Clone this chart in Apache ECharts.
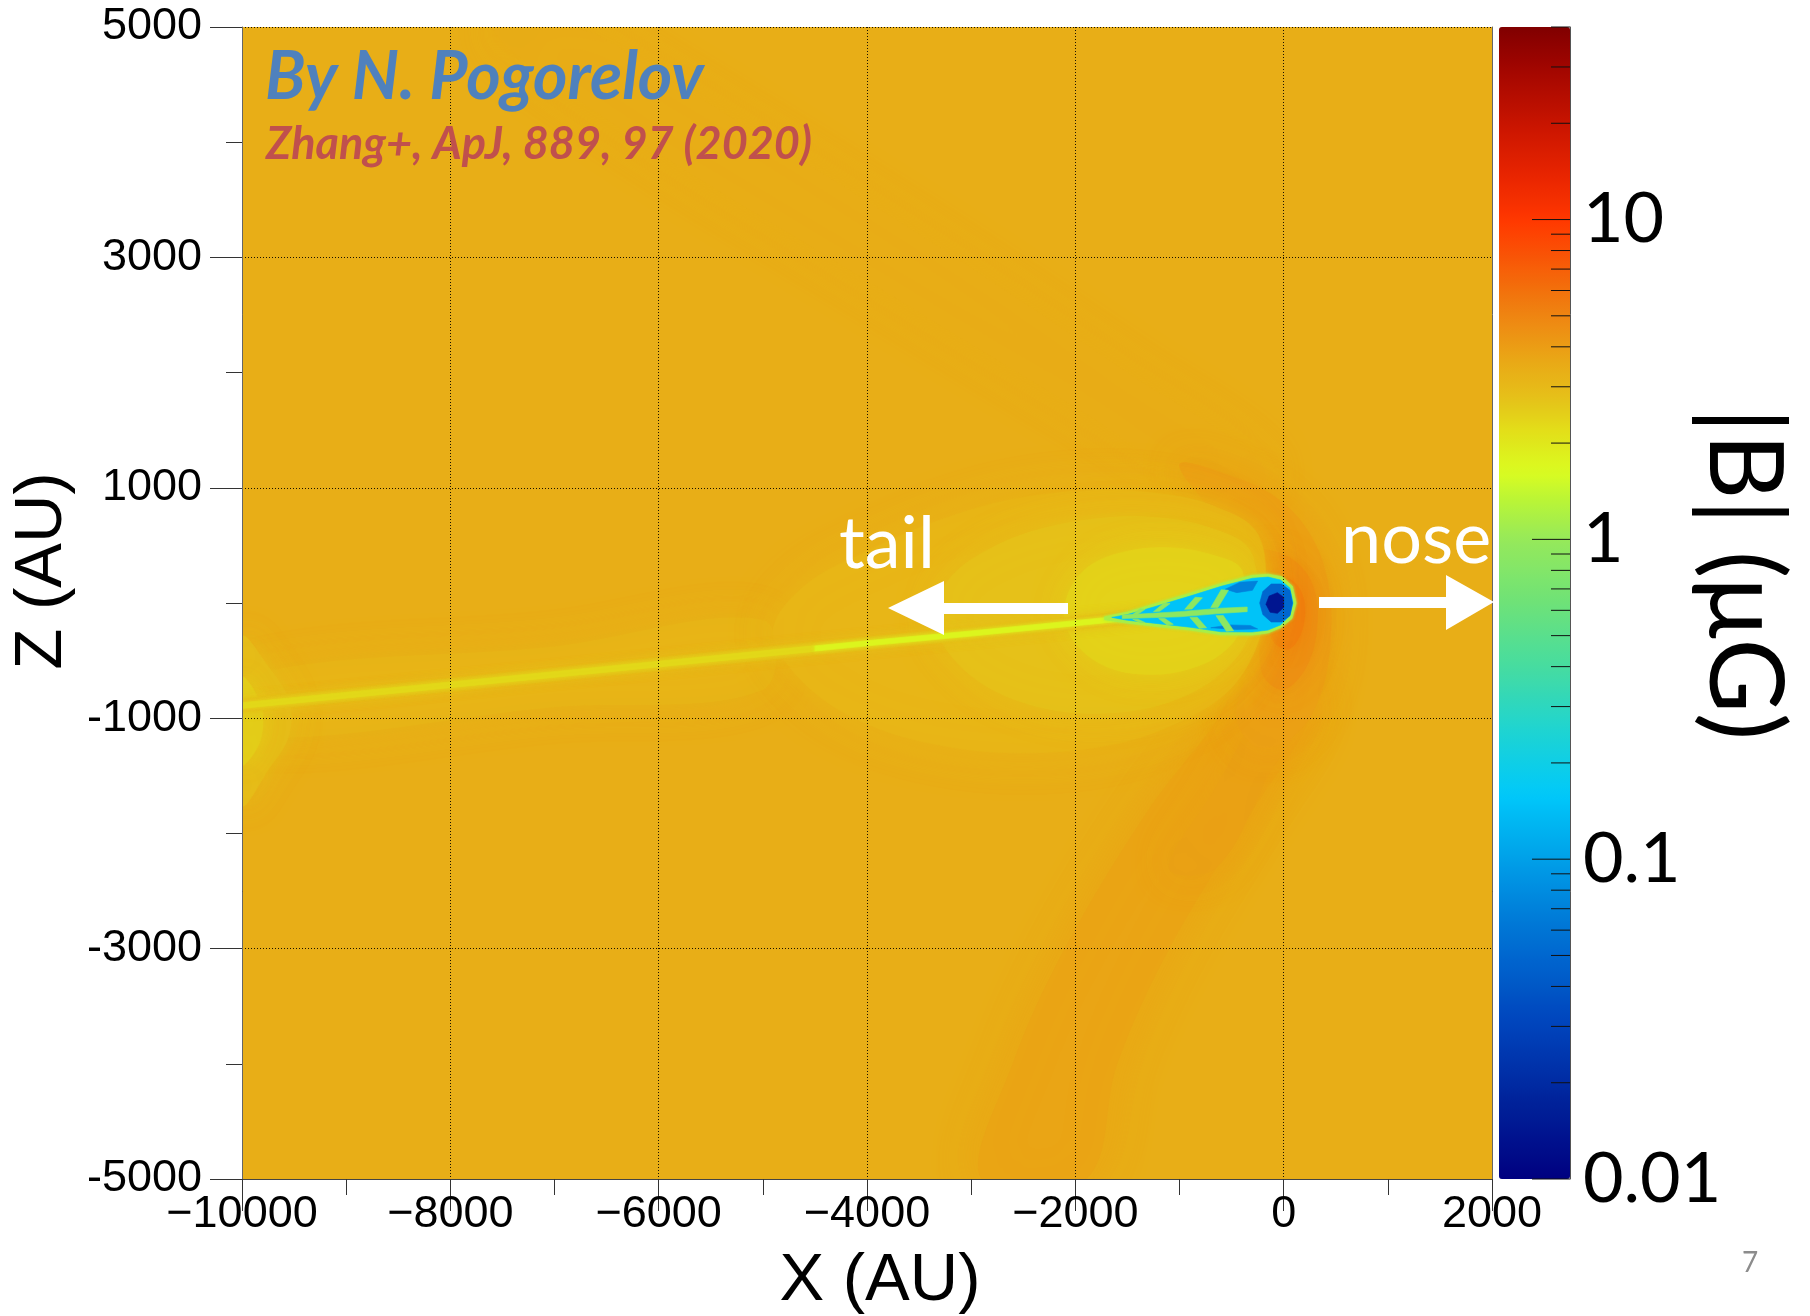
<!DOCTYPE html>
<html><head><meta charset="utf-8">
<script src="https://cdn.jsdelivr.net/npm/echarts@6/dist/echarts.min.js"></script>
<style>html,body{margin:0;padding:0;background:#fff}#c{width:1810px;height:1316px}</style>
</head><body><div id="c"></div>
<script>
// ---------- axes ----------
const X_MIN = -10000, X_MAX = 2000, X_STEP = 2000;
const Z_MIN = -5000, Z_MAX = 5000, Z_STEP = 2000;
const B_MIN = 0.01, B_MAX = 40;            // colour bar range (µG, log)
const cbMajor = [0.01, 0.1, 1, 10];
const cbLabels = ['0.01', '0.1', '1', '10'];
const cbMinor = [0.02,0.03,0.04,0.05,0.06,0.07,0.08,0.09,
                 0.2,0.3,0.4,0.5,0.6,0.7,0.8,0.9,
                 2,3,4,5,6,7,8,9,20,30,40];
const cbTitle = '|B| (\u03BCG)';

// ---------- field: regions of |B| (µG), drawn bottom -> top ----------
const regionNames = ['background','upperBand','lowerBand','lowerBandCore','noseOuter','noseMid','noseInner',
  'tailHaloFar','haloOuter','haloMid','haloInner','leftOuter','leftInner',
  'tailOuter','tailCoreFar','tailCoreNear','helioRim','helioBody','blueU','blueL','spine',
  'stripeU1','stripeU2','stripeU3','stripeU4','stripeL1','stripeL2','stripeL3','stripeL4','headRing','headCore'];
const regionB = [3.4, 3.45, 3.7, 3.85, 3.9, 4.5, 5.3,
  3.15, 3.1, 2.75, 2.4, 2.9, 2.5,
  2.8, 2.3, 1.75, 1.15, 0.15, 0.07, 0.07, 0.9,
  0.9, 0.9, 0.9, 0.9, 0.9, 0.9, 0.9, 0.9, 0.05, 0.014];

const background = [[-10000,-5000],[2000,-5000],[2000,5000],[-10000,5000]];
const upperBand = [[-500,900],[-150,1150],[-1500,2000],[-3500,3200],[-6000,4600],[-6800,5000],[-7600,5000],[-6500,4200],[-4000,2800],[-2000,1700]];
const lowerBand = [[-300,-600],[200,-700],[250,-1000],[-300,-1800],[-1100,-3000],[-1600,-4000],[-1900,-5000],[-2900,-5000],[-2600,-4000],[-2100,-3000],[-1300,-1800],[-700,-1100]];
const lowerBandCore = [[-100,-650],[200,-900],[-150,-1500],[-650,-2300],[-1100,-2300],[-650,-1600],[-350,-1100]];
const noseOuter = [[-1000,1200],[-500,1100],[-50,900],[250,600],[420,200],[450,-300],[350,-800],[100,-1150],[-250,-1250],[-450,-1000],[-350,-600],[-250,-200],[-300,300],[-550,650]];
const noseMid = [[-250,450],[80,380],[280,150],[320,-200],[220,-550],[0,-750],[-200,-620],[-220,-250],[-180,150]];
const noseInner = [[-80,230],[100,180],[200,0],[170,-250],[50,-400],[-100,-330],[-130,-80]];
const tailHaloFar = [[-5000,-150],[-7000,-380],[-10000,-650],[-10000,-1150],[-7000,-900],[-5000,-750]];
const haloOuter = [[-250,600],[-700,850],[-1200,950],[-1800,980],[-2600,900],[-3300,720],[-4000,450],[-4600,150],[-4900,-250],[-4600,-700],[-4000,-1050],[-3200,-1250],[-2400,-1300],[-1600,-1220],[-1000,-1030],[-550,-780],[-280,-420],[-180,0]];
const haloMid = [[-320,450],[-700,650],[-1200,740],[-1700,740],[-2300,650],[-2800,480],[-3200,220],[-3350,-120],[-3200,-450],[-2800,-750],[-2200,-930],[-1600,-950],[-1100,-860],[-700,-680],[-420,-430],[-280,-100]];
const haloInner = [[-400,280],[-700,420],[-1100,480],[-1500,450],[-1850,330],[-2050,120],[-2100,-150],[-1950,-400],[-1650,-570],[-1250,-620],[-900,-570],[-600,-440],[-420,-230]];
const leftOuter = [[-10000,-300],[-9750,-550],[-9550,-850],[-9550,-1150],[-9750,-1450],[-10000,-1750]];
const leftInner = [[-10000,-650],[-9830,-850],[-9800,-1050],[-9850,-1250],[-10000,-1400]];
const tailOuter = [[-1300,-55],[-2000,-120],[-3000,-210],[-4000,-295],[-6000,-475],[-8000,-655],[-10000,-835],
                   [-10000,-945],[-8000,-765],[-6000,-585],[-4000,-405],[-3000,-320],[-2000,-230],[-1300,-165]];
const tailCoreFar = [[-4500,-370],[-6000,-505],[-8000,-685],[-10000,-865],[-10000,-915],[-8000,-735],[-6000,-555],[-4500,-420]];
const tailCoreNear = [[-1200,-80],[-2000,-153],[-3000,-243],[-4000,-328],[-4500,-373],[-4500,-417],[-4000,-372],[-3000,-287],[-2000,-197],[-1200,-125]];
const helioRim = [[120,0],[85,145],[-20,230],[-150,250],[-300,240],[-600,170],[-900,85],[-1250,-10],[-1500,-78],[-1720,-120],
                  [-1720,-145],[-1500,-175],[-1250,-200],[-900,-235],[-600,-275],[-300,-278],[-150,-260],[-30,-215],[80,-135]];
const helioBody = [[90,0],[60,130],[-30,200],[-150,225],[-300,215],[-600,145],[-900,60],[-1250,-35],[-1500,-100],[-1650,-125],
                   [-1500,-150],[-1250,-175],[-900,-210],[-600,-250],[-300,-252],[-150,-235],[-30,-190],[60,-110]];
const blueU = [[-250,190],[-420,180],[-560,120],[-450,90],[-300,110]];
const blueL = [[-250,-225],[-450,-230],[-700,-215],[-520,-190],[-320,-195]];
const spine = [[-1550,-105],[-1000,-75],[-600,-45],[-350,-35],[-350,-75],[-600,-90],[-1000,-120],[-1550,-135]];
const stripeU1 = [[-1250,-75],[-1190,-72],[-1090,-5],[-1150,0]];
const stripeU2 = [[-950,-55],[-880,-52],[-780,45],[-850,50]];
const stripeU3 = [[-700,-40],[-630,-38],[-530,110],[-600,115]];
const stripeU4 = [[-1450,-100],[-1400,-98],[-1330,-55],[-1380,-50]];
const stripeL1 = [[-1200,-135],[-1140,-135],[-1060,-185],[-1120,-190]];
const stripeL2 = [[-900,-125],[-830,-123],[-740,-215],[-810,-220]];
const stripeL3 = [[-650,-110],[-580,-108],[-480,-240],[-550,-245]];
const stripeL4 = [[-1450,-140],[-1400,-140],[-1330,-170],[-1380,-172]];
const headRing = [[85,0],[60,110],[-20,165],[-120,165],[-200,100],[-230,0],[-200,-100],[-120,-165],[-20,-165],[60,-110]];
const headCore = [[0,50],[-60,90],[-140,60],[-170,-10],[-130,-80],[-60,-90],[0,-40]];

const regionShapes = [background, upperBand, lowerBand, lowerBandCore, noseOuter, noseMid, noseInner,
  tailHaloFar, haloOuter, haloMid, haloInner, leftOuter, leftInner,
  tailOuter, tailCoreFar, tailCoreNear, helioRim, helioBody, blueU, blueL, spine,
  stripeU1, stripeU2, stripeU3, stripeU4, stripeL1, stripeL2, stripeL3, stripeL4, headRing, headCore];

// edge softness (style only): blur radius in px per region name
const softEdge = {upperBand:40, lowerBand:40, lowerBandCore:35, noseOuter:35, noseMid:25, noseInner:18,
  tailHaloFar:35, haloOuter:40, haloMid:35, haloInner:30, leftOuter:30, leftInner:20,
  tailOuter:8, tailCoreFar:4, tailCoreNear:4, helioRim:3};

// ---------- colour palette (log10 |B| -> rgb) ----------
const palT = [-2.0,-1.75,-1.5,-1.2,-1.0,-0.8,-0.6,-0.4,-0.2,0.0,0.12,0.21,0.33,0.45,0.55,0.65,0.78,0.9,1.0,1.15,1.3,1.48,1.602];
const palC = [[0,0,128],[0,35,155],[0,70,190],[0,120,215],[0,160,232],[0,200,250],[30,212,210],[70,220,160],[110,226,120],
  [150,233,90],[185,245,55],[218,252,32],[226,225,25],[230,190,25],[233,170,22],[237,145,20],[242,112,12],[250,80,5],
  [255,55,0],[230,35,0],[200,20,0],[160,5,0],[128,0,0]];
function paletteAt(t){
  if (t <= palT[0]) return 'rgb(' + palC[0].join(',') + ')';
  for (let i = 1; i < palT.length; i++){
    if (t <= palT[i]){
      const f = (t - palT[i-1]) / (palT[i] - palT[i-1]);
      const c = palC[i-1].map((v,k) => Math.round(v + (palC[i][k]-v)*f));
      return 'rgb(' + c.join(',') + ')';
    }
  }
  return 'rgb(' + palC[palC.length-1].join(',') + ')';
}
const T_MIN = Math.log10(B_MIN), T_MAX = Math.log10(B_MAX);
const vmColors = [];
for (let i = 0; i <= 144; i++) vmColors.push(paletteAt(T_MIN + (T_MAX - T_MIN) * i / 144));

const fmtX = v => v < 0 ? '\u2212' + (-v) : String(v);
const fmtZ = v => String(v);
const fmtB = v => {
  const e = Math.log10(v);
  for (let i = 0; i < cbMajor.length; i++) if (Math.abs(Math.log10(cbMajor[i]) - e) < 1e-6) return cbLabels[i];
  return '';
};
const tickColor = '#333';

function tickRenderer(len){
  return function(params, api){
    const p = api.coord([api.value(0), api.value(1)]);
    return {type:'line', shape:{x1:p[0]-len, y1:p[1], x2:p[0], y2:p[1]}, style:{stroke:'#111', lineWidth:1}};
  };
}

const chart = echarts.init(document.getElementById('c'), null, {renderer:'canvas'});
const option = {
  animation: false,
  backgroundColor: '#ffffff',
  grid: [
    {left:242, top:27, width:1250, height:1152, show:false, containLabel:false, outerBoundsMode:'none'},
    {left:1499, top:27, width:71, height:1152, show:false, containLabel:false, outerBoundsMode:'none'}
  ],
  xAxis: [
    {gridIndex:0, type:'value', min:X_MIN, max:X_MAX, interval:X_STEP, position:'bottom', z:5,
     axisLine:{show:true, onZero:false, lineStyle:{color:'#444', width:1}},
     axisTick:{show:true, length:32, lineStyle:{color:tickColor}},
     minorTick:{show:true, splitNumber:2, length:16, lineStyle:{color:tickColor}},
     splitLine:{show:true, lineStyle:{color:'#1a1200', width:1, type:[1,2]}},
     axisLabel:{fontFamily:'Liberation Sans', fontSize:45, color:'#000', margin:13, formatter:fmtX},
     name:'X (AU)', nameLocation:'middle', nameGap:69,
     nameTextStyle:{fontFamily:'Liberation Sans', fontSize:67, color:'#000', padding:[0,0,0,26]}},
    {gridIndex:1, type:'value', min:0, max:1, show:false}
  ],
  yAxis: [
    {gridIndex:0, type:'value', min:Z_MIN, max:Z_MAX, interval:Z_STEP, position:'left', z:5,
     axisLine:{show:true, onZero:false, lineStyle:{color:'#666', width:1}},
     axisTick:{show:true, length:32, lineStyle:{color:tickColor}},
     minorTick:{show:true, splitNumber:2, length:16, lineStyle:{color:tickColor}},
     splitLine:{show:true, lineStyle:{color:'#1a1200', width:1, type:[1,2]}},
     axisLabel:{fontFamily:'Liberation Sans', fontSize:45, color:'#000', margin:40, formatter:fmtZ},
     name:'Z (AU)', nameLocation:'middle', nameGap:160, nameRotate:90,
     nameTextStyle:{fontFamily:'Liberation Sans', fontSize:67, color:'#000', padding:[0,0,0,64]}},
    {gridIndex:0, type:'value', min:Z_MIN, max:Z_MAX, position:'right', z:5,
     axisLine:{show:true, onZero:false, lineStyle:{color:'#666', width:1}},
     axisTick:{show:false}, axisLabel:{show:false}, splitLine:{show:false}},
    {gridIndex:1, type:'log', logBase:10, min:B_MIN, max:B_MAX, position:'right', z:5,
     axisLine:{show:true, onZero:false, lineStyle:{color:'#555', width:1}},
     axisTick:{show:false}, splitLine:{show:false}, minorTick:{show:false},
     axisLabel:{fontFamily:'Lato', fontSize:70, color:'#000', margin:13, formatter:fmtB}}
  ],
  visualMap: {
    type:'continuous', show:true, seriesIndex:0, dimension:1, min:T_MIN, max:T_MAX,
    calculable:false, hoverLink:false, orient:'vertical', left:1499, top:27,
    itemWidth:71, itemHeight:1152, padding:0, borderWidth:0,
    inRange:{color:vmColors}
  },
  series: [
    {type:'custom', name:'|B|', xAxisIndex:0, yAxisIndex:0, clip:true, silent:true, z:2,
     dimensions:['region','logB'], encode:{x:0, y:1},
     data: regionB.map((b, i) => [i, Math.log10(b)]),
     renderItem: function(params, api){
       const idx = api.value(0);
       const pts = regionShapes[idx].map(p => api.coord(p));
       const col = api.visual('color');
       const blur = softEdge[regionNames[idx]] || 0;
       return {type:'polygon', shape:{points:pts, smooth: blur > 10 ? 0.35 : 0},
               style:{fill:col, stroke:col, lineWidth:0.6, shadowBlur:blur, shadowColor:col}};
     }},
    {type:'custom', name:'cbMajor', xAxisIndex:1, yAxisIndex:2, z:10, silent:true, clip:false,
     data: cbMajor.map(v => [1, v]), renderItem: tickRenderer(38)},
    {type:'custom', name:'cbMinor', xAxisIndex:1, yAxisIndex:2, z:10, silent:true, clip:false,
     data: cbMinor.map(v => [1, v]), renderItem: tickRenderer(19)}
  ],
  graphic: [
    {type:'text', z:100, x:1743, y:574, rotation:-Math.PI/2,
     style:{x:0, y:0, text:cbTitle, font:'102px Lato', fill:'#000', align:'center', verticalAlign:'middle'}},
    {type:'text', z:100, style:{x:265, y:78, text:'By N. Pogorelov', font:'italic bold 66px Lato', fill:'#4F81BD', align:'left', verticalAlign:'middle'}},
    {type:'text', z:100, style:{x:266, y:144, text:'Zhang+, ApJ, 889, 97 (2020)', font:'italic bold 45px Lato', fill:'#C0504D', align:'left', verticalAlign:'middle'}},
    {type:'text', z:100, style:{x:839, y:545, text:'tail', font:'72px Lato', fill:'#ffffff', align:'left', verticalAlign:'middle'}},
    {type:'text', z:100, style:{x:1341, y:540, text:'nose', font:'72px Lato', fill:'#ffffff', align:'left', verticalAlign:'middle'}},
    {type:'polygon', z:100, shape:{points:[[888,608],[944,581],[944,603],[1068,603],[1068,614],[944,614],[944,635]]}, style:{fill:'#ffffff'}},
    {type:'polygon', z:100, shape:{points:[[1319,597],[1446,597],[1446,575],[1494,602],[1446,630],[1446,608],[1319,608]]}, style:{fill:'#ffffff'}},
    {type:'text', z:100, style:{x:1750, y:1263, text:'7', font:'28px Lato', fill:'#8c8c8c', align:'center', verticalAlign:'middle'}}
  ]
};
chart.setOption(option);
</script></body></html>
